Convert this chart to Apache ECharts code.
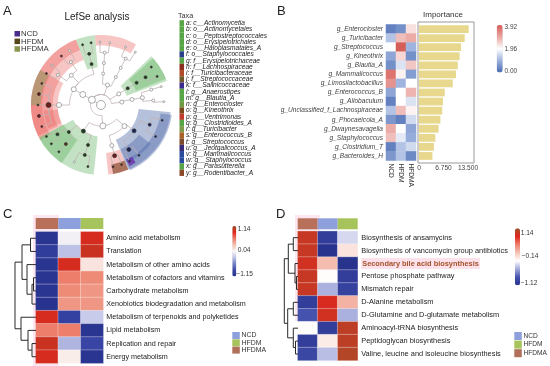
<!DOCTYPE html>
<html><head><meta charset="utf-8">
<script src="https://cdn.jsdelivr.net/npm/echarts@6/dist/echarts.min.js"></script>
<style>html,body{margin:0;padding:0;background:#fff}#c{width:550px;height:366px}</style>
</head><body><div id="c"></div>
<script>
const FONT = '"Liberation Sans", Arial, sans-serif';

// ================= Panel A (LefSe cladogram) =================
const aGroups = ['NCD', 'HFDM', 'HFDMA'];
const aGroupColors = ['#4b2c8a', '#57481c', '#8a9650'];
const taxaLabels = ['a: c__Actinomycetia','b: o__Actinomycetales','c: o__Peptostreptococcales','d: o__Erysipelotrichales','e: o__Haloplasmatales_A','f: o__Staphylococcales','g: f__Erysipelotrichaceae','h: f__Lachnospiraceae','i: f__Turicibacteraceae','j: f__Streptococcaceae','k: f__Salinicoccaceae','l: g__Anaerostipes','m: g__Blautia_A','n: g__Enterocloster','o: g__Kineothrix','p: g__Ventrimonas','q: g__Clostridioides_A','r: g__Turicibacter','s: g__Enterococcus_B','t: g__Streptococcus','u: g__Jeotgalicoccus_A','v: g__Mammalicoccus','w: g__Staphylococcus','x: g__Parasutterella','y: g__Rodentibacter_A'];
const taxaColors = ['#58a548','#58a548','#58a548','#58a548','#58a548','#2c3f8c','#58a548','#8b2e1e','#b04a2a','#6e5a2a','#3d2b8e','#58a548','#58a548','#6f9a44','#7a4a1e','#c0392b','#58a548','#7f9a48','#a8622a','#7a4a2a','#3a2a7a','#2a4a9a','#2a4aa0','#58a548','#8a4a2a'];
// level radii (fraction of outer radius): root, kingdom, phylum, class, order, family, genus
const cladoLevels = [0, 0.15, 0.3, 0.45, 0.6, 0.75, 0.9];
// nodes: [parent, angle(deg), level, colourKey, size]
const cladoNodes = [
 [-1,0,0,0,9],[0,150,1,0,7],
 [1,150,2,0,6],[1,275,2,0,6],[1,32,2,0,4],[1,8,2,0,4],[1,72,2,0,4],
 [2,150,3,0,5],[3,236,3,1,4],[3,318,3,0,5],[4,32,3,1,3],[5,10,3,0,4],[6,62,3,0,3],[6,86,3,0,3],
 [7,103,4,1,3],[7,135,4,0,4],[7,180,4,0,5],[8,220,4,1,3],[8,252,4,1,3],[9,285,4,0,4],[9,322,4,3,4],[10,32,4,1,3],[11,10,4,0,4],[12,62,4,0,3],[13,86,4,0,3],
 [14,103,5,1,3],[15,125,5,0,3],[15,145,5,0,3],[16,180,5,2,5],[17,214,5,1,3],[17,228,5,5,3],[18,252,5,1,3],[19,285,5,2,4],[20,302,5,3,4],[20,338,5,3,3],[21,32,5,1,3],[22,5,5,0,3],[22,17,5,0,3],[23,62,5,0,3],[24,86,5,0,3],
 [25,99,6,1,2],[25,107,6,1,2],[26,120,6,0,2],[26,129,6,2,2],[27,141,6,0,2],[27,150,6,2,2],[28,160,6,2,2],[28,170,6,2,3],[28,180,6,1,2],[28,190,6,2,3],[28,200,6,2,2],
 [29,210,6,1,2],[29,218,6,1,2],[30,228,6,1,2],[31,245,6,0,2],[31,258,6,1,2],[32,281,6,2,2],[32,289,6,5,2],[33,297,6,4,2],[33,307,6,3,2],[34,330,6,3,2],[34,346,6,3,2],
 [35,27,6,1,2],[35,37,6,1,2],[36,3,6,0,2],[37,17,6,0,2],[38,57,6,0,2],[38,67,6,0,2],[39,82,6,0,2],[39,91,6,0,2]
];
// shaded clades: [angleStart, angleEnd, innerR, outerR, colourKey]
const cladoSectors = [
 [20,44,0.39,1.0,1],[22,42,0.54,1.0,1],
 [95,111,0.54,1.0,1],[60,95,0.85,1.0,2],
 [111,210,0.84,1.0,2],[111,206,0.69,1.0,2],[150,208,0.62,1.0,2],[186,204,0.62,0.82,2],
 [150,180,0.86,1.0,1],
 [208,264,0.45,1.0,1],[208,236,0.6,1.0,1],
 [276,293,0.69,1.0,2],[280,293,0.86,1.0,5],
 [293,354,0.54,1.0,3],[294,322,0.69,0.9,3],[294,352,0.86,1.02,3],[295,301,0.86,0.96,4]
];
const sectorFill = {1:'rgba(88,175,88,0.36)',2:'rgba(232,98,92,0.36)',3:'rgba(78,104,170,0.42)',4:'rgba(100,40,170,0.75)',5:'rgba(120,60,25,0.6)'};
const nodeFill = ['#ffffff','#1f3d1c','#6e1a16','#17245a','#4a1d8a','#5a3a12'];

// ================= Panel B =================
const bGenera = ['g_Enterocloster','g_Turicibacter','g_Streptococcus','g_Kineothrix','g_Blautia_A','g_Mammalicoccus','g_Limosilactobacillus','g_Enterococcus_B','g_Allobaculum','g_Unclassified_f_Lachnospiraceae','g_Phocaeicola_A','g_Dwaynesavagella','g_Staphylococcus','g_Clostridium_T','g_Bacteroides_H'];
const bGroups = ['NCD','HFDM','HFDMA'];
const bNCD   = [0.3,1.2,1.95,0.8,0.5,3.6,3.2,0.8,0.3,1.2,0.6,2.9,2.7,0.3,0.6];
const bHFDM  = [0.5,2.7,3.9,2.4,1.6,2.1,1.0,1.96,1.96,2.7,0.3,1.96,1.7,1.2,1.2];
const bHFDMA = [2.3,2.9,1.0,0.5,2.6,0.7,1.96,2.8,1.6,2.1,1.5,0.8,0.9,1.5,0.4];
const bImportance = [13.7,12.6,11.6,11.2,10.7,10.2,9.3,7.1,6.6,6.4,5.9,5.4,4.5,4.1,3.7];
const bTicks = [0, 6.75, 13.5];
const bScale = [0, 3.92];
const bScaleLabels = ['3.92','1.96','0.00'];

// ================= Panel C =================
const hmGroups = ['HFDMA','NCD','HFDM'];
const hmGroupColors = ['#b8705a','#8ea0dc','#a6c35c'];
const legendGroups = ['NCD','HFDM','HFDMA'];
const legendColors = ['#8ea0dc','#a6c35c','#b0705a'];
const cPathways = ['Amino acid metabolism','Translation','Metabolism of other amino acids','Metabolism of cofactors and vitamins','Carbohydrate metabolism','Xenobiotics biodegradation and metabolism','Metabolism of terpenoids and polyketides','Lipid metabolism','Replication and repair','Energy metabolism'];
const cHFDMA = [-1.1,-1.0,-1.1,-1.1,-1.1,-1.12,0.9,0.55,0.95,0.9];
const cNCD   = [-0.05,-0.3,0.9,0.55,0.5,0.45,-0.95,0.55,-0.35,0.05];
const cHFDM  = [0.9,0.95,0.1,0.5,0.45,0.45,-0.25,-1.1,-0.9,-1.1];
const cScale = [-1.15, 1.14];
const cScaleLabels = ['1.14','0.04','\u22121.15'];
// dendrogram merges: [childA, childB, height]; leaves 0..9, clusters 10..
const cMerges = [[0,1,5.5],[3,4,2.5],[11,5,4],[2,12,9],[10,13,14],[8,9,4],[7,15,8],[6,16,15],[14,17,21]];

// ================= Panel D =================
const dPathways = ['Biosynthesis of ansamycins','Biosynthesis of vancomycin group antibiotics','Secondary bile acid biosynthesis','Pentose phosphate pathway','Mismatch repair','D-Alanine metabolism','D-Glutamine and D-glutamate metabolism','Aminoacyl-tRNA biosynthesis','Peptidoglycan biosynthesis','Valine, leucine and isoleucine biosynthesis'];
const dHighlight = 'Secondary bile acid biosynthesis';
const dHFDMA = [0.95,0.95,0.9,0.95,0.95,-1.0,-0.8,-0.14,-1.0,-0.9];
const dNCD   = [-1.0,-1.1,0.2,-0.14,-0.45,0.85,0.9,-1.0,-0.05,-0.4];
const dHFDM  = [-0.3,0.0,-1.1,-1.0,-0.95,0.25,-0.45,1.0,1.0,1.05];
const dScale = [-1.12, 1.14];
const dScaleLabels = ['1.14','\u22120.14','\u22121.12'];
const dMerges = [[0,1,4.7],[3,4,1.5],[2,11,3],[10,12,9.7],[5,6,4.7],[8,9,2.5],[7,15,4.7],[14,16,10.3],[13,17,13.7]];

// ================= helpers =================
function heatData(cols) {
  const out = [];
  cols.forEach((arr, x) => arr.forEach((v, y) => out.push([x, y, v])));
  return out;
}
function dendroSegs(merges, n) {
  const pos = [], h = [], segs = [];
  for (let i = 0; i < n; i++) { pos.push(i + 0.5); h.push(0); }
  merges.forEach(m => {
    const a = m[0], b = m[1];
    segs.push([pos[a], h[a], pos[b], h[b], m[2]]);
    pos.push((pos[a] + pos[b]) / 2); h.push(m[2]);
  });
  return segs;
}
function dendroRender(params, api) {
  const y1 = api.value(0), h1 = api.value(1), y2 = api.value(2), h2 = api.value(3), h = api.value(4);
  return { type: 'polyline', shape: { points: [api.coord([h1, y1]), api.coord([h, y1]), api.coord([h, y2]), api.coord([h2, y2])] },
    style: { stroke: '#2a2a2a', lineWidth: 1, fill: null } };
}
function headerRender(colors) {
  return function (params, api) {
    const i = api.value(0);
    const c = api.coord([i, 0]); const s = api.size([1, 1]);
    return { type: 'rect', shape: { x: c[0] - s[0] / 2, y: c[1] - s[1] / 2, width: s[0], height: s[1] }, style: { fill: colors[i] } };
  };
}
const edgeData = [];
cladoNodes.forEach(n => {
  if (n[0] < 0) return;
  const p = cladoNodes[n[0]];
  edgeData.push([cladoLevels[p[2]], p[1], cladoLevels[n[2]], n[1]]);
});

// ================= grids / axes =================
const hidden = { show: false };
const grids = [
  { left: 386, top: 24.5, width: 30, height: 136 },          // 0 B heatmap
  { left: 419, top: 24.5, width: 54.4, height: 136 },        // 1 B bars
  { left: 35.7, top: 218, width: 67.6, height: 11 },         // 2 C header
  { left: 35.7, top: 231.7, width: 67.6, height: 131.6 },    // 3 C heatmap
  { left: 14, top: 231.7, width: 22, height: 131.6 },        // 4 C dendro
  { left: 297.7, top: 218.3, width: 60, height: 11 },        // 5 D header
  { left: 297.7, top: 231.2, width: 60, height: 129.3 },     // 6 D heatmap
  { left: 283, top: 231.2, width: 15, height: 129.3 }        // 7 D dendro
];
const catAxisBase = { axisLine: hidden, axisTick: hidden, splitLine: hidden };
const xAxes = [
  Object.assign({ gridIndex: 0, type: 'category', data: bGroups, position: 'bottom',
    axisLabel: { rotate: -90, interval: 0, fontSize: 6.6, color: '#333', fontFamily: FONT, margin: 3 } }, catAxisBase),
  { gridIndex: 1, type: 'value', min: 0, max: 15, axisLine: hidden, axisTick: hidden, splitLine: hidden,
    axisLabel: { customValues: bTicks, fontSize: 6.6, color: '#444', fontFamily: FONT, margin: 4,
      formatter: v => v === 0 ? '0' : v.toFixed(3) } },
  { gridIndex: 2, type: 'category', data: hmGroups, show: false },
  { gridIndex: 3, type: 'category', data: hmGroups, show: false },
  { gridIndex: 4, type: 'value', min: 0, max: 22, inverse: true, show: false },
  { gridIndex: 5, type: 'category', data: hmGroups, show: false },
  { gridIndex: 6, type: 'category', data: hmGroups, show: false },
  { gridIndex: 7, type: 'value', min: 0, max: 15, inverse: true, show: false }
];
const yAxes = [
  Object.assign({ gridIndex: 0, type: 'category', data: bGenera, inverse: true,
    axisLabel: { interval: 0, fontSize: 6.6, fontStyle: 'italic', color: '#444', fontFamily: FONT, margin: 3 } }, catAxisBase),
  { gridIndex: 1, type: 'category', data: bGenera, inverse: true, show: false },
  { gridIndex: 2, type: 'category', data: ['g'], show: false },
  Object.assign({ gridIndex: 3, type: 'category', data: cPathways, inverse: true, position: 'right',
    axisLabel: { interval: 0, fontSize: 7.2, color: '#222', fontFamily: FONT, margin: 3 } }, catAxisBase),
  { gridIndex: 4, type: 'value', min: 0, max: 10, inverse: true, show: false },
  { gridIndex: 5, type: 'category', data: ['g'], show: false },
  Object.assign({ gridIndex: 6, type: 'category', data: dPathways, inverse: true, position: 'right',
    axisLabel: { interval: 0, fontSize: 7.4, color: '#222', fontFamily: FONT, margin: 3.5,
      formatter: v => v === dHighlight ? '{hl|' + v + '}' : v,
      rich: { hl: { fontWeight: 'bold', color: '#a5522a', fontSize: 7.4, fontFamily: FONT, backgroundColor: '#fce1ea', padding: [2, 1, 2, 1] } } } }, catAxisBase),
  { gridIndex: 7, type: 'value', min: 0, max: 10, inverse: true, show: false }
];

// ================= series =================
const series = [
  { type: 'heatmap', xAxisIndex: 0, yAxisIndex: 0, data: heatData([bNCD, bHFDM, bHFDMA]),
    itemStyle: { borderWidth: 0 }, emphasis: { disabled: true } },
  { type: 'bar', xAxisIndex: 1, yAxisIndex: 1, data: bImportance, barCategoryGap: '14%',
    itemStyle: { color: '#e7d88e' }, silent: true },
  { type: 'custom', xAxisIndex: 2, yAxisIndex: 2, data: [[0, 0], [1, 0], [2, 0]], renderItem: headerRender(hmGroupColors), silent: true },
  { type: 'heatmap', xAxisIndex: 3, yAxisIndex: 3, data: heatData([cHFDMA, cNCD, cHFDM]),
    itemStyle: { borderColor: 'rgba(255,255,255,0.55)', borderWidth: 0.6 }, emphasis: { disabled: true } },
  { type: 'custom', xAxisIndex: 4, yAxisIndex: 4, data: dendroSegs(cMerges, cPathways.length), encode: { x: 1, y: 0 }, renderItem: dendroRender, silent: true },
  { type: 'custom', xAxisIndex: 5, yAxisIndex: 5, data: [[0, 0], [1, 0], [2, 0]], renderItem: headerRender(hmGroupColors), silent: true },
  { type: 'heatmap', xAxisIndex: 6, yAxisIndex: 6, data: heatData([dHFDMA, dNCD, dHFDM]),
    itemStyle: { borderColor: 'rgba(255,255,255,0.55)', borderWidth: 0.6 }, emphasis: { disabled: true } },
  { type: 'custom', xAxisIndex: 7, yAxisIndex: 7, data: dendroSegs(dMerges, dPathways.length), encode: { x: 1, y: 0 }, renderItem: dendroRender, silent: true },
  // cladogram sectors
  { type: 'custom', coordinateSystem: 'polar', data: cladoSectors, encode: { radius: 2, angle: 0 }, silent: true,
    renderItem: function (params, api) {
      const a1 = api.value(0), a2 = api.value(1), r1 = api.value(2), r2 = api.value(3), ck = api.value(4);
      const n = Math.max(2, Math.ceil((a2 - a1) / 2)), pts = [];
      for (let i = 0; i <= n; i++) pts.push(api.coord([r2, a1 + (a2 - a1) * i / n]));
      for (let i = n; i >= 0; i--) pts.push(api.coord([r1, a1 + (a2 - a1) * i / n]));
      return { type: 'polygon', shape: { points: pts }, style: { fill: sectorFill[ck] } };
    } },
  // cladogram edges: arc at the parent's radius, then radial to the child
  { type: 'custom', coordinateSystem: 'polar', data: edgeData, encode: { radius: 0, angle: 1 }, silent: true,
    renderItem: function (params, api) {
      const rp = api.value(0), ap = api.value(1), rc = api.value(2), ac = api.value(3);
      const d = (((ac - ap + 540) % 360) - 180);
      const pts = [];
      if (rp > 0) {
        const n = Math.max(1, Math.ceil(Math.abs(d) / 3));
        for (let i = 0; i <= n; i++) pts.push(api.coord([rp, ap + d * i / n]));
      } else {
        pts.push(api.coord([0, ac]));
      }
      pts.push(api.coord([rc, ac]));
      return { type: 'polyline', shape: { points: pts }, style: { stroke: '#c2b3b3', lineWidth: 0.8, fill: null } };
    } },
  // cladogram nodes
  { type: 'scatter', coordinateSystem: 'polar', silent: true,
    data: cladoNodes.map(n => ({ value: [cladoLevels[n[2]], n[1]], symbolSize: n[4],
      itemStyle: { color: nodeFill[n[3]], borderColor: n[3] === 0 ? '#8a8a8a' : '#333', borderWidth: 0.7, opacity: 1 } })) }
];

// ================= visual maps (colour bars) =================
const visualMaps = [
  { type: 'continuous', seriesIndex: 0, min: bScale[0], max: bScale[1], left: 496.7, top: 25, itemWidth: 6, itemHeight: 47.5, padding: 0,
    inRange: { color: ['#4a6cb5', '#9db2dd', '#ffffff', '#eaa7a3', '#d65c57'] }, calculable: false, hoverLink: false },
  { type: 'continuous', seriesIndex: 3, min: cScale[0], max: cScale[1], left: 232.3, top: 226, itemWidth: 4, itemHeight: 50.5, padding: 0,
    inRange: { color: ['#26318c', '#3b48a8', '#7380c6', '#bfc3e6', '#fbf8f8', '#f3c0b0', '#ec7a66', '#e0261e', '#9c4b24'] }, calculable: false, hoverLink: false },
  { type: 'continuous', seriesIndex: 6, min: dScale[0], max: dScale[1], left: 515, top: 228.3, itemWidth: 5, itemHeight: 57, padding: 0,
    inRange: { color: ['#26318c', '#4553ae', '#a4abdc', '#ffffff', '#f5c3b6', '#ee7f6a', '#e0261e', '#a0522a'] }, calculable: false, hoverLink: false }
];

// ================= graphic texts / decorations =================
const g = [];
function txt(x, y, text, size, opts) {
  opts = opts || {};
  g.push({ type: 'text', x: x, y: y, z: 100, style: { text: text, fill: opts.fill || '#222',
    font: (opts.style || '') + ' ' + (opts.weight || '') + ' ' + size + 'px ' + FONT,
    textAlign: opts.align || 'left', align: opts.align || 'left', textVerticalAlign: 'middle', verticalAlign: 'middle' } });
}
g.push({ type: 'rect', z: -10, shape: { x: 33, y: 215, width: 26, height: 151 }, style: { fill: '#fde6ef' } });
g.push({ type: 'rect', z: -10, shape: { x: 295, y: 215, width: 25, height: 106 }, style: { fill: '#fde6ef' } });
txt(3, 11, 'A', 13); txt(277, 11, 'B', 13); txt(3, 214, 'C', 13); txt(276, 214, 'D', 13);
txt(97, 17, 'LefSe analysis', 10, { align: 'center' });
aGroups.forEach((name, i) => {
  g.push({ type: 'rect', shape: { x: 14.5, y: 31 + i * 7.6, width: 5.5, height: 5.5 }, style: { fill: aGroupColors[i] } });
  txt(21, 34 + i * 7.6, name, 7.8, { fill: '#333' });
});
txt(178, 16, 'Taxa', 7.2, { fill: '#333' });
taxaLabels.forEach((t, i) => {
  g.push({ type: 'rect', shape: { x: 179.5, y: 20.2 + i * 6.23, width: 4.5, height: 6.23 }, style: { fill: taxaColors[i] } });
  txt(186, 23.3 + i * 6.23, t, 6.6, { style: 'italic', fill: '#222' });
});
txt(443, 15, 'Importance', 8, { align: 'center', fill: '#333' });
g.push({ type: 'rect', shape: { x: 418, y: 22, width: 56, height: 141 }, style: { fill: null, stroke: '#999', lineWidth: 1 } });
bScaleLabels.forEach((t, i) => txt(504.5, 27 + i * 22.3, t, 6.5, { fill: '#444' }));
cScaleLabels.forEach((t, i) => txt(i === 2 ? 236.3 : 237.7, [229.3, 250.3, 273.7][i], t, 6.6, { fill: '#333' }));
legendGroups.forEach((name, i) => {
  g.push({ type: 'rect', shape: { x: 232.3, y: 332 + i * 7.3, width: 7.5, height: 7 }, style: { fill: legendColors[i] } });
  txt(241.5, 335.5 + i * 7.3, name, 6.9, { fill: '#333' });
});
dScaleLabels.forEach((t, i) => txt([520.7, 521.7, 520.7][i], [232.7, 256, 283.3][i], t, 6.6, { fill: '#333' }));
legendGroups.forEach((name, i) => {
  g.push({ type: 'rect', shape: { x: 514.3, y: 332 + i * 8.6, width: 7.5, height: 8 }, style: { fill: legendColors[i] } });
  txt(523.5, 336 + i * 8.6, name, 6.6, { fill: '#333' });
});

const chart = echarts.init(document.getElementById('c'), null, { renderer: 'canvas' });
chart.setOption({
  animation: false,
  backgroundColor: '#ffffff',
  textStyle: { fontFamily: FONT },
  grid: grids,
  xAxis: xAxes,
  yAxis: yAxes,
  polar: { center: [101, 105], radius: 70 },
  angleAxis: { type: 'value', min: 0, max: 360, startAngle: 0, clockwise: false, show: false },
  radiusAxis: { type: 'value', min: 0, max: 1, show: false },
  visualMap: visualMaps,
  series: series,
  graphic: { elements: g }
});
</script>
</body></html>
